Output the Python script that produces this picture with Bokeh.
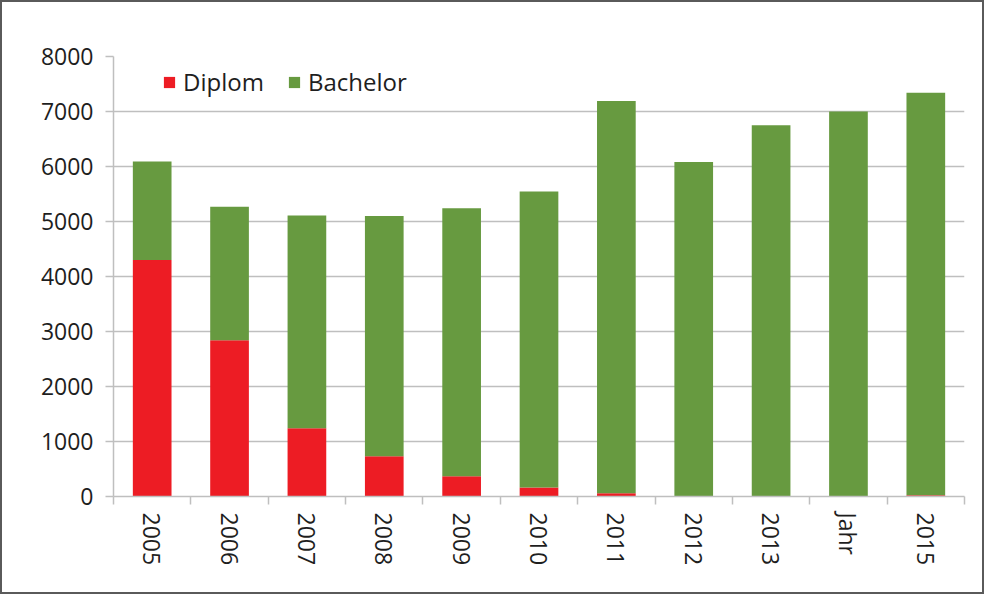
from bokeh.plotting import figure
from bokeh.models import ColumnDataSource, FixedTicker, Legend
from bokeh.embed import file_html
from bokeh.resources import INLINE

# values
years = ["2005", "2006", "2007", "2008", "2009", "2010", "2011", "2012", "2013", "Jahr", "2015"]
diplom = [4300, 2840, 1240, 730, 370, 165, 60, 0, 0, 0, 25]
bachelor = [1790, 2430, 3870, 4370, 4870, 5380, 7130, 6080, 6750, 7000, 7315]
y_ticks = [0, 1000, 2000, 3000, 4000, 5000, 6000, 7000, 8000]

RED = "#ED1C24"
GREEN = "#679A40"
GRID = "#BFBFBF"
FONT = "Open Sans"

xs = list(range(1, len(years) + 1))
source = ColumnDataSource(dict(x=xs, year=years, Diplom=diplom, Bachelor=bachelor))

p = figure(
    width=984,
    height=594,
    x_range=(0.5, len(years) + 0.5),
    y_range=(0, 8000),
    output_backend="svg",
    toolbar_location=None,
    min_border_left=111,
    min_border_right=22,
    min_border_top=54,
    min_border_bottom=100,
)
p.styles = {"border": "2px solid #5a5a5a", "box-sizing": "border-box"}
p.outline_line_color = None

renderers = p.vbar_stack(
    ["Diplom", "Bachelor"],
    x="x",
    width=0.5,
    color=[RED, GREEN],
    line_color=None,
    source=source,
)

# y axis
p.yaxis.ticker = FixedTicker(ticks=y_ticks)
p.yaxis.axis_line_color = GRID
p.yaxis.axis_line_width = 1.5
p.yaxis.major_tick_line_color = GRID
p.yaxis.major_tick_line_width = 1.5
p.yaxis.major_tick_in = 0
p.yaxis.major_tick_out = 8
p.yaxis.minor_tick_line_color = None
p.yaxis.major_label_text_font = FONT
p.yaxis.major_label_text_font_size = "23px"
p.yaxis.major_label_text_color = "#1e1e1e"
p.yaxis.major_label_standoff = 12

# x axis: labels at bar centres, separators between the bars
p.xaxis.ticker = FixedTicker(ticks=xs, minor_ticks=[x - 0.5 for x in xs] + [xs[-1] + 0.5])
p.xaxis.major_label_overrides = {x: y for x, y in zip(xs, years)}
p.xaxis.major_label_orientation = "vertical"
p.xaxis.major_tick_line_color = None
p.xaxis.minor_tick_line_color = GRID
p.xaxis.minor_tick_line_width = 1.5
p.xaxis.minor_tick_in = 0
p.xaxis.minor_tick_out = 8
p.xaxis.axis_line_color = GRID
p.xaxis.axis_line_width = 1.5
p.xaxis.major_label_text_font = FONT
p.xaxis.major_label_text_font_size = "23px"
p.xaxis.major_label_text_color = "#1e1e1e"
p.xaxis.major_label_standoff = 8

p.xgrid.grid_line_color = None
p.ygrid.ticker = FixedTicker(ticks=y_ticks)
p.ygrid.grid_line_color = GRID
p.ygrid.grid_line_width = 1.5

legend = Legend(
    items=[("Diplom", [renderers[0]]), ("Bachelor", [renderers[1]])],
    orientation="horizontal",
    location=(49, 398),
    background_fill_alpha=0,
    border_line_color=None,
    glyph_width=14,
    glyph_height=14,
    label_standoff=7,
    spacing=23,
    padding=0,
    margin=0,
    label_text_font=FONT,
    label_text_font_size="24px",
    label_text_color="#1e1e1e",
)
p.add_layout(legend, "center")

open("out.html", "w").write(file_html(p, INLINE))
